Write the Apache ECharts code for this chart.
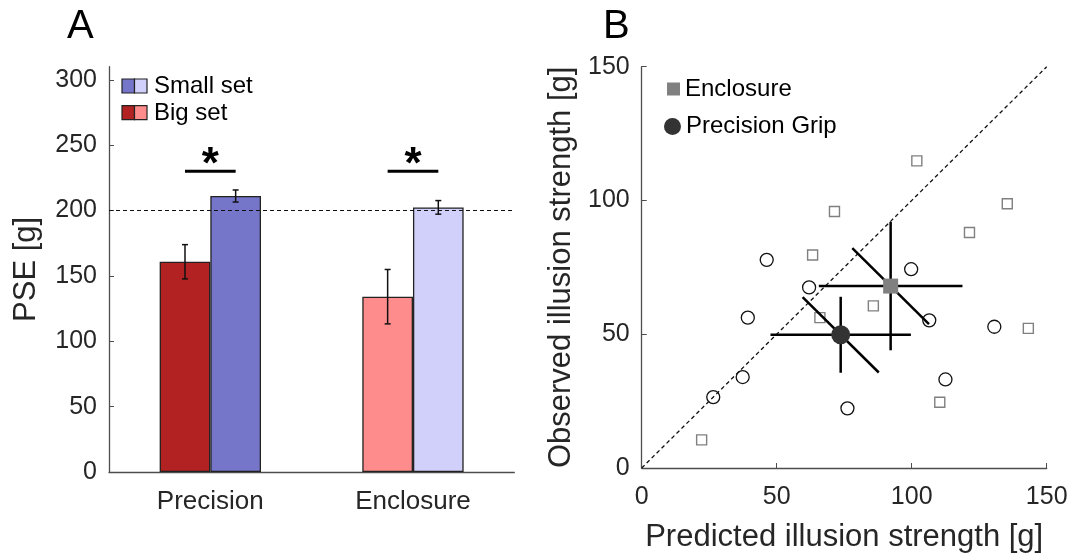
<!DOCTYPE html>
<html>
<head>
<meta charset="utf-8">
<script src="https://cdn.jsdelivr.net/npm/echarts@6/dist/echarts.min.js"></script>
<style>
  html, body { margin: 0; padding: 0; background: #fff; }
  #chart { width: 1084px; height: 558px; }
</style>
</head>
<body>
<div id="chart"></div>
<script>
// panel A: PSE per grip
const grips = ['Precision', 'Enclosure'];
const bigMeans = [160.8, 134.1];
const bigErr = [13.1, 20.8];
const smallMeans = [211.1, 202.4];
const smallErr = [4.6, 5.2];
const bigColors = ['#B22222', '#FF8C8C'];
const smallColors = ['#7575CA', '#D0D0FA'];
const pseTicks = [0, 50, 100, 150, 200, 250, 300];
const refWeight = 200;
const sigLevel = 230;
const sigMarks = ['*', '*'];

// panel B: predicted vs observed illusion
const strengthTicks = [0, 50, 100, 150];
const encPred = [101.9, 135.4, 121.4, 71.4, 63.3, 85.8, 66.0, 143.2, 110.4, 22.2];
const encObs = [114.8, 98.8, 88.0, 95.9, 79.6, 60.6, 56.2, 52.2, 24.6, 10.5];
const pgPred = [46.3, 62.0, 99.8, 39.3, 106.5, 130.6, 37.4, 112.5, 26.5, 76.2];
const pgObs = [77.8, 67.5, 74.3, 56.2, 55.2, 52.8, 34.0, 33.1, 26.5, 22.3];
// mean x, mean y, x error, y error, error across the identity line
const encMean = [92.2, 68.0, 26.6, 24.0, 14.2];
const pgMean = [73.7, 49.8, 26.0, 14.2, 14.1];
const identityRange = [0, 150];

const font = "'Liberation Sans', Arial, sans-serif";
const txt = '#262626';
const axisCol = '#4d4d4d';

let chart = echarts.init(document.getElementById('chart'));

function errBarA(params, api) {
    const cat = api.value(0);
    const band = api.size([1, 0])[0];
    const x = api.coord([cat, api.value(1)])[0] + api.value(3) * band * 0.125;
    const top = api.coord([cat, api.value(1) + api.value(2)])[1];
    const bot = api.coord([cat, api.value(1) - api.value(2)])[1];
    const st = { stroke: '#111', lineWidth: 1.5 };
    return {
        type: 'group',
        children: [
            { type: 'line', shape: { x1: x, y1: top, x2: x, y2: bot }, style: st },
            { type: 'line', shape: { x1: x - 3, y1: top, x2: x + 3, y2: top }, style: st },
            { type: 'line', shape: { x1: x - 3, y1: bot, x2: x + 3, y2: bot }, style: st }
        ]
    };
}

function sigMark(params, api) {
    const p = api.coord([api.value(0), api.value(1)]);
    const band = api.size([1, 0])[0];
    return {
        type: 'group',
        children: [
            { type: 'line', shape: { x1: p[0] - band * 0.125, y1: p[1], x2: p[0] + band * 0.125, y2: p[1] },
              style: { stroke: '#000', lineWidth: 3 } },
            { type: 'text', x: p[0], y: p[1] - 5,
              style: { text: sigMarks[params.dataIndex], font: 'bold 44px ' + font, fill: '#000',
                       align: 'center', verticalAlign: 'middle' } }
        ]
    };
}

function cross(params, api) {
    const cx = api.value(0), cy = api.value(1);
    const ex = api.value(2), ey = api.value(3), ed = api.value(4);
    const a = api.coord([cx - ex, cy]), b = api.coord([cx + ex, cy]);
    const c = api.coord([cx, cy - ey]), d = api.coord([cx, cy + ey]);
    const e = api.coord([cx - ed, cy + ed]), f = api.coord([cx + ed, cy - ed]);
    const st = { stroke: '#000', lineWidth: 2.5 };
    return {
        type: 'group',
        children: [
            { type: 'line', shape: { x1: a[0], y1: a[1], x2: b[0], y2: b[1] }, style: st },
            { type: 'line', shape: { x1: c[0], y1: c[1], x2: d[0], y2: d[1] }, style: st },
            { type: 'line', shape: { x1: e[0], y1: e[1], x2: f[0], y2: f[1] }, style: st }
        ]
    };
}

const valueAxisBase = {
    axisLine: { show: true, lineStyle: { color: axisCol, width: 1.3 } },
    axisTick: { show: true, inside: true, length: 5, lineStyle: { color: axisCol } },
    splitLine: { show: false },
    axisLabel: { color: txt, fontSize: 25, fontFamily: font },
    nameLocation: 'middle',
    nameTextStyle: { color: txt, fontSize: 31, fontFamily: font }
};

chart.setOption({
    animation: false,
    textStyle: { fontFamily: font },
    graphic: [
        { type: 'text', x: 67, y: 47, style: { text: 'A', font: '40px ' + font, fill: '#000', verticalAlign: 'bottom' } },
        { type: 'text', x: 603, y: 47, style: { text: 'B', font: '40px ' + font, fill: '#000', verticalAlign: 'bottom' } },
        // legend A (two-tone keys)
        { type: 'rect', shape: { x: 122, y: 79, width: 12.5, height: 14 }, style: { fill: smallColors[0], stroke: '#222', lineWidth: 1.2 } },
        { type: 'rect', shape: { x: 134.5, y: 79, width: 12.5, height: 14 }, style: { fill: smallColors[1], stroke: '#222', lineWidth: 1.2 } },
        { type: 'text', x: 154, y: 86, style: { text: 'Small set', font: '24px ' + font, fill: '#000', verticalAlign: 'middle' } },
        { type: 'rect', shape: { x: 122, y: 105.7, width: 12.5, height: 14 }, style: { fill: bigColors[0], stroke: '#222', lineWidth: 1.2 } },
        { type: 'rect', shape: { x: 134.5, y: 105.7, width: 12.5, height: 14 }, style: { fill: bigColors[1], stroke: '#222', lineWidth: 1.2 } },
        { type: 'text', x: 154, y: 113, style: { text: 'Big set', font: '24px ' + font, fill: '#000', verticalAlign: 'middle' } }
    ],
    legend: [
        { data: ['Enclosure'], left: 662, top: 72, itemWidth: 13, itemHeight: 13, itemGap: 0,
          textStyle: { fontSize: 24, color: '#000', fontFamily: font } },
        { data: ['Precision Grip'], left: 659, top: 109.5, itemWidth: 17, itemHeight: 17, itemGap: 0,
          textStyle: { fontSize: 24, color: '#000', fontFamily: font } }
    ],
    grid: [
        { left: 109, top: 66.7, width: 405.3, height: 405.3 },
        { left: 641.7, top: 66.7, width: 405, height: 405 }
    ],
    xAxis: [
        { gridIndex: 0, type: 'category', data: grips,
          axisLine: { lineStyle: { color: axisCol, width: 1.3 } },
          axisTick: { show: false },
          axisLabel: { color: txt, fontSize: 26, fontFamily: font, margin: 17 } },
        Object.assign({}, valueAxisBase, {
          gridIndex: 1, type: 'value', min: 0, max: 150, interval: 50,
          name: 'Predicted illusion strength [g]', nameGap: 54,
          axisTick: Object.assign({}, valueAxisBase.axisTick, { customValues: strengthTicks }),
          axisLabel: Object.assign({}, valueAxisBase.axisLabel, { margin: 17, customValues: strengthTicks }) })
    ],
    yAxis: [
        Object.assign({}, valueAxisBase, {
          gridIndex: 0, type: 'value', min: 0, max: 310, interval: 50,
          name: 'PSE [g]', nameGap: 67,
          axisTick: Object.assign({}, valueAxisBase.axisTick, { customValues: pseTicks }),
          axisLabel: Object.assign({}, valueAxisBase.axisLabel, { margin: 12, customValues: pseTicks }) }),
        Object.assign({}, valueAxisBase, {
          gridIndex: 1, type: 'value', min: 0, max: 150, interval: 50,
          name: 'Observed illusion strength [g]', nameGap: 65,
          axisTick: Object.assign({}, valueAxisBase.axisTick, { customValues: strengthTicks }),
          axisLabel: Object.assign({}, valueAxisBase.axisLabel, { margin: 12, customValues: strengthTicks }) })
    ],
    series: [
        { type: 'bar', name: 'Big set', xAxisIndex: 0, yAxisIndex: 0,
          barWidth: '25%', barGap: '0%',
          data: bigMeans.map((v, i) => ({ value: v, itemStyle: { color: bigColors[i] } })),
          itemStyle: { borderColor: '#222', borderWidth: 1.3 },
          markLine: { silent: true, symbol: 'none', label: { show: false },
                      lineStyle: { type: [4, 3], color: '#111', width: 1.2 },
                      data: [{ yAxis: refWeight }] } },
        { type: 'bar', name: 'Small set', xAxisIndex: 0, yAxisIndex: 0,
          barWidth: '25%', barGap: '0%',
          data: smallMeans.map((v, i) => ({ value: v, itemStyle: { color: smallColors[i] } })),
          itemStyle: { borderColor: '#222', borderWidth: 1.3 } },
        { type: 'custom', name: 'errors', xAxisIndex: 0, yAxisIndex: 0, z: 5,
          renderItem: errBarA,
          data: bigMeans.map((v, i) => [i, v, bigErr[i], -1])
                .concat(smallMeans.map((v, i) => [i, v, smallErr[i], 1])) },
        { type: 'custom', name: 'significance', xAxisIndex: 0, yAxisIndex: 0, z: 5,
          renderItem: sigMark,
          data: grips.map((g, i) => [i, sigLevel]) },
        { type: 'line', name: 'identity', xAxisIndex: 1, yAxisIndex: 1, symbol: 'none', silent: true,
          lineStyle: { type: [4, 3], color: '#111', width: 1.3 },
          data: identityRange.map(v => [v, v]) },
        { type: 'scatter', name: 'Enclosure subjects', xAxisIndex: 1, yAxisIndex: 1,
          symbol: 'rect', symbolSize: 10,
          itemStyle: { color: 'rgba(0,0,0,0)', borderColor: '#808080', borderWidth: 1.4, opacity: 1 },
          data: encPred.map((v, i) => [v, encObs[i]]) },
        { type: 'scatter', name: 'Precision subjects', xAxisIndex: 1, yAxisIndex: 1,
          symbol: 'circle', symbolSize: 13,
          itemStyle: { color: 'rgba(0,0,0,0)', borderColor: '#111', borderWidth: 1.3, opacity: 1 },
          data: pgPred.map((v, i) => [v, pgObs[i]]) },
        { type: 'custom', name: 'crosses', xAxisIndex: 1, yAxisIndex: 1, z: 4,
          renderItem: cross,
          data: [encMean, pgMean] },
        { type: 'scatter', name: 'Enclosure', xAxisIndex: 1, yAxisIndex: 1, z: 6,
          symbol: 'rect', symbolSize: 15, itemStyle: { color: '#808080', opacity: 1 },
          data: [[encMean[0], encMean[1]]] },
        { type: 'scatter', name: 'Precision Grip', xAxisIndex: 1, yAxisIndex: 1, z: 6,
          symbol: 'circle', symbolSize: 19, itemStyle: { color: '#333333', opacity: 1 },
          data: [[pgMean[0], pgMean[1]]] }
    ]
});
</script>
</body>
</html>
